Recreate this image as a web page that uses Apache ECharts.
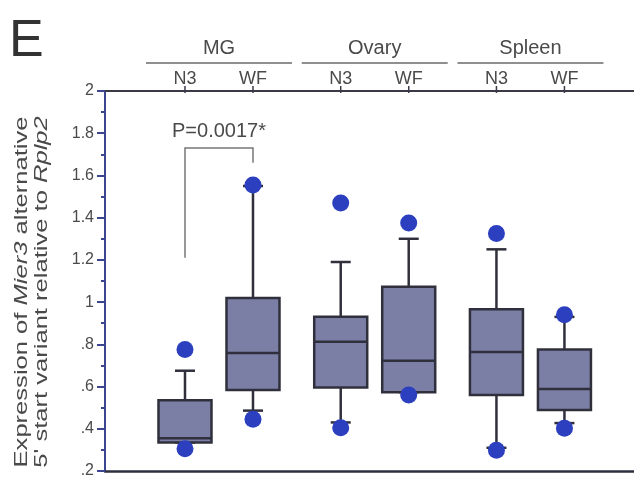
<!DOCTYPE html>
<html>
<head>
<meta charset="utf-8">
<script src="https://cdn.jsdelivr.net/npm/echarts@6/dist/echarts.min.js"></script>
<style>
  html, body { margin: 0; padding: 0; background: #fff; }
  #chart { width: 634px; height: 483px; }
</style>
</head>
<body>
<div id="chart"></div>
<script>
// Tissues and strains
const groups = ['MG', 'Ovary', 'Spleen'];
const strains = ['N3', 'WF'];

// Box statistics per tissue: [lower whisker, Q1, median, Q3, upper whisker]
const n3Boxes = [
  [0.335, 0.335, 0.355, 0.535, 0.675],
  [0.43, 0.596, 0.812, 0.931, 1.19],
  [0.31, 0.56, 0.764, 0.966, 1.25]
];
const wfBoxes = [
  [0.486, 0.584, 0.759, 1.02, 1.55],
  [0.573, 0.573, 0.722, 1.073, 1.30],
  [0.427, 0.489, 0.588, 0.776, 0.93]
];

// Extreme points per tissue: [high, low]
const n3Extremes = [[0.775, 0.305], [1.47, 0.405], [1.325, 0.298]];
const wfExtremes = [[1.555, 0.445], [1.375, 0.56], [0.94, 0.402]];

// Y tick labels from .2 to 2
const yTickLabels = ['.2', '.4', '.6', '.8', '1', '1.2', '1.4', '1.6', '1.8', '2'];

// Y axis title, two lines (italic gene names)
const yTitleLines = [
  '{n|Expression of }{i|Mier3}{n| alternative}',
  "{n|5' start variant relative to }{i|Rplp2}"
];

// MG comparison: [bracket top, left leg end, right leg end]
const pBracket = [1.73, 1.21, 1.66];
const pLabel = 'P=0.0017*';

const FONT = "'Liberation Sans', Arial, sans-serif";
const TEXT = '#4a4a4a';
const BOX_FILL = '#7b7fa6';
const BOX_EDGE = '#30303c';
const DOT = '#2b3fbf';
const AXIS_BLUE = '#3b4590';
const HALF_GAP = 34;   // px between tissue centre and each strain box
const BOX_W = 53;
const CAP = 10;

const boxData = [];
[n3Boxes, wfBoxes].forEach(function (boxes, s) {
  boxes.forEach(function (b, g) { boxData.push([g].concat(b, [s])); });
});
function extremePoints(list) {
  const pts = [];
  list.forEach(function (pair, g) { pair.forEach(function (v) { pts.push([g, v]); }); });
  return pts;
}

function renderBox(params, api) {
  const g = api.value(0);
  const s = api.value(6);
  const cx = api.coord([g, 1])[0] + (s === 0 ? -HALF_GAP : HALF_GAP);
  const y = function (i) { return api.coord([g, api.value(i)])[1]; };
  const lo = y(1), q1 = y(2), md = y(3), q3 = y(4), hi = y(5);
  const ls = { stroke: BOX_EDGE, lineWidth: 2.5 };
  return {
    type: 'group',
    children: [
      { type: 'line', shape: { x1: cx, y1: q3, x2: cx, y2: hi }, style: ls },
      { type: 'line', shape: { x1: cx, y1: q1, x2: cx, y2: lo }, style: ls },
      { type: 'line', shape: { x1: cx - CAP, y1: hi, x2: cx + CAP, y2: hi }, style: ls },
      { type: 'line', shape: { x1: cx - CAP, y1: lo, x2: cx + CAP, y2: lo }, style: ls },
      { type: 'rect', shape: { x: cx - BOX_W / 2, y: q3, width: BOX_W, height: q1 - q3 },
        style: { fill: BOX_FILL, stroke: BOX_EDGE, lineWidth: 2.5 } },
      { type: 'line', shape: { x1: cx - BOX_W / 2, y1: md, x2: cx + BOX_W / 2, y2: md }, style: ls }
    ]
  };
}

function renderHeader(params, api) {
  const g = api.value(0);
  const top = api.coord([g, 2]);
  const cx = top[0], ty = top[1];
  const children = [
    { type: 'text', x: cx, y: ty - 43,
      style: { text: groups[g], font: '20px ' + FONT, fill: TEXT, align: 'center', verticalAlign: 'middle' } },
    { type: 'line', shape: { x1: cx - 73, y1: ty - 28, x2: cx + 73, y2: ty - 28 },
      style: { stroke: '#6a6a6a', lineWidth: 1.5 } }
  ];
  strains.forEach(function (name, s) {
    const sx = cx + (s === 0 ? -HALF_GAP : HALF_GAP);
    children.push({ type: 'text', x: sx, y: ty - 12,
      style: { text: name, font: '18px ' + FONT, fill: TEXT, align: 'center', verticalAlign: 'middle' } });
    children.push({ type: 'line', shape: { x1: sx, y1: ty - 5, x2: sx, y2: ty + 2 },
      style: { stroke: '#3a3a4a', lineWidth: 1.5 } });
  });
  return { type: 'group', children: children };
}

function renderBracket(params, api) {
  const base = api.coord([0, api.value(1)]);
  const xl = base[0] - HALF_GAP, xr = base[0] + HALF_GAP, yt = base[1];
  const yl = api.coord([0, api.value(2)])[1];
  const yr = api.coord([0, api.value(3)])[1];
  return {
    type: 'group',
    children: [
      { type: 'polyline', shape: { points: [[xl, yl], [xl, yt], [xr, yt], [xr, yr]] },
        style: { stroke: '#777', lineWidth: 1.5, fill: null } },
      { type: 'text', x: (xl + xr) / 2, y: yt - 17,
        style: { text: pLabel, font: '20px ' + FONT, fill: TEXT, align: 'center', verticalAlign: 'middle' } }
    ]
  };
}

const titleRich = {
  n: { fontFamily: FONT, fontSize: 18, fill: TEXT, color: TEXT },
  i: { fontFamily: FONT, fontSize: 18, fill: TEXT, color: TEXT, fontStyle: 'italic' }
};

const xAxisBase = {
  type: 'value', min: -0.732, max: 2.665,
  axisTick: { show: false }, axisLabel: { show: false }, splitLine: { show: false }
};

const chart = echarts.init(document.getElementById('chart'), null, { renderer: 'canvas' });
chart.setOption({
  animation: false,
  backgroundColor: '#fff',
  title: {
    text: 'E', left: 4, top: 11,
    textStyle: { fontFamily: FONT, fontSize: 52, fontWeight: 'normal', color: '#333' }
  },
  graphic: yTitleLines.map(function (line, i) {
    return {
      type: 'text', x: 22 + i * 20, y: 292, rotation: Math.PI / 2, scaleX: 1.42,
      style: { text: line, rich: titleRich, align: 'center', verticalAlign: 'middle',
               fill: TEXT, font: '18px ' + FONT }
    };
  }),
  grid: { left: 105, right: 0, top: 91, bottom: 12, outerBoundsMode: 'none' },
  xAxis: [
    Object.assign({}, xAxisBase, { position: 'bottom',
      axisLine: { show: true, onZero: false, lineStyle: { color: '#2e3040', width: 2.5 } } }),
    Object.assign({}, xAxisBase, { position: 'top',
      axisLine: { show: true, onZero: false, lineStyle: { color: '#3a3a44', width: 2 } } })
  ],
  yAxis: {
    type: 'value', min: 0.2, max: 2, interval: 0.2,
    axisLine: { show: true, onZero: false, lineStyle: { color: AXIS_BLUE, width: 2 } },
    axisTick: { show: true, length: 8, lineStyle: { color: AXIS_BLUE, width: 2 } },
    minorTick: { show: true, splitNumber: 2, length: 4, lineStyle: { color: AXIS_BLUE, width: 2 } },
    splitLine: { show: false },
    axisLabel: {
      margin: 11, color: TEXT, fontFamily: FONT, fontSize: 16,
      formatter: function (v) { return yTickLabels[Math.round((v - 0.2) / 0.2)]; }
    }
  },
  series: [
    { type: 'custom', name: 'header', renderItem: renderHeader, clip: false,
      data: groups.map(function (n, g) { return [g]; }), silent: true },
    { type: 'custom', name: 'boxes', renderItem: renderBox, data: boxData, silent: true,
      encode: { x: 0, y: [1, 2, 3, 4, 5] } },
    { type: 'scatter', name: 'N3', data: extremePoints(n3Extremes), symbolSize: 17,
      symbolOffset: [-HALF_GAP, 0], itemStyle: { color: DOT, opacity: 1 }, silent: true },
    { type: 'scatter', name: 'WF', data: extremePoints(wfExtremes), symbolSize: 17,
      symbolOffset: [HALF_GAP, 0], itemStyle: { color: DOT, opacity: 1 }, silent: true },
    { type: 'custom', name: 'comparison', renderItem: renderBracket, clip: false,
      data: [[0].concat(pBracket)], silent: true, encode: { x: 0, y: [1, 2, 3] } }
  ]
});
</script>
</body>
</html>
